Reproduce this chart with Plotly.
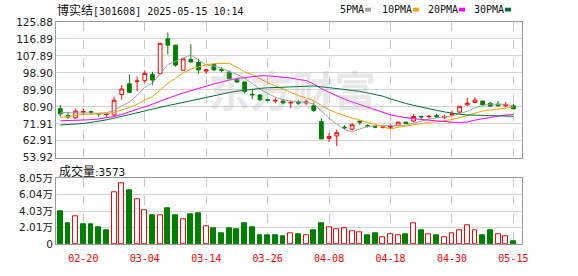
import plotly.graph_objects as go

# ---- trading sessions ----
dates = [
    "02-17", "02-18", "02-19", "02-20", "02-21", "02-24", "02-25", "02-26", "02-27", "02-28",
    "03-03", "03-04", "03-05", "03-06", "03-07", "03-10", "03-11", "03-12", "03-13", "03-14",
    "03-17", "03-18", "03-19", "03-20", "03-21", "03-24", "03-25", "03-26", "03-27", "03-28",
    "03-31", "04-01", "04-02", "04-03", "04-07", "04-08", "04-09", "04-10", "04-11", "04-14",
    "04-15", "04-16", "04-17", "04-18", "04-21", "04-22", "04-23", "04-24", "04-25", "04-28",
    "04-29", "04-30", "05-06", "05-07", "05-08", "05-09", "05-12", "05-13", "05-14", "05-15",
]

opens = [
    80.0, 76.3, 75.1, 78.1, 78.3, 77.4, 76.8, 76.6, 87.4, 93.1,
    94.3, 94.95, 98.1, 98.5, 116.97, 113.6, 100.3, 106.0, 104.4, 99.9,
    103.4, 100.8, 99.3, 95.3, 94.1, 87.6, 87.2, 84.7, 84.0, 84.0,
    83.0, 83.4, 83.0, 81.5, 73.1, 64.2, 65.5, 70.1, 69.1, 73.4,
    70.9, 70.4, 70.0, 70.1, 71.1, 72.8, 73.4, 75.9, 75.7, 76.2,
    75.4, 76.5, 78.1, 82.0, 83.2, 84.0, 82.85, 82.35, 81.5, 81.5,
]
highs = [
    81.9, 78.3, 80.0, 80.0, 78.8, 77.6, 77.6, 86.4, 92.4, 98.1,
    96.9, 100.2, 99.5, 114.8, 120.3, 113.8, 106.9, 114.1, 106.4, 101.0,
    103.9, 101.8, 100.3, 95.8, 94.3, 89.9, 87.7, 84.9, 85.5, 84.9,
    84.4, 84.4, 84.9, 83.2, 74.8, 67.0, 68.9, 71.2, 72.4, 73.4,
    71.6, 71.0, 71.3, 71.7, 73.1, 73.1, 77.1, 76.0, 76.5, 77.3,
    76.8, 79.0, 81.2, 85.7, 86.0, 84.0, 83.5, 84.0, 83.5, 82.35,
]
lows = [
    75.8, 74.6, 74.6, 76.6, 76.6, 75.8, 75.6, 76.0, 84.7, 88.1,
    89.2, 93.6, 92.4, 98.0, 108.7, 102.2, 100.3, 104.5, 98.5, 98.3,
    100.0, 99.2, 95.8, 93.6, 87.9, 84.9, 84.0, 84.0, 82.8, 82.3,
    80.2, 82.0, 82.0, 78.1, 63.9, 62.3, 60.1, 68.9, 68.3, 71.4,
    70.0, 69.6, 69.4, 69.0, 71.0, 71.9, 72.8, 74.0, 74.8, 75.1,
    74.3, 76.1, 77.3, 81.5, 82.85, 82.0, 81.0, 81.3, 80.7, 79.8,
]
closes = [
    77.2, 75.5, 78.65, 78.3, 78.1, 77.1, 77.0, 84.4, 90.4, 88.6,
    94.6, 98.66, 95.1, 114.6, 113.6, 103.0, 106.4, 104.7, 100.5, 100.6,
    100.5, 100.3, 95.8, 94.1, 89.1, 87.3, 84.7, 84.4, 84.3, 83.0,
    83.2, 82.9, 83.5, 79.0, 63.9, 65.2, 67.2, 69.8, 71.4, 72.8,
    70.7, 70.2, 70.3, 70.5, 72.8, 72.1, 75.8, 75.6, 75.9, 75.7,
    75.8, 77.3, 81.2, 82.85, 84.5, 82.0, 81.3, 81.4, 82.1, 79.8,
]
# volume in units of 万股
volumes = [
    4.05, 2.57, 3.35, 2.41, 2.41, 2.06, 1.71, 6.34, 7.39, 6.61,
    5.53, 4.12, 3.58, 3.58, 4.40, 3.58, 3.07, 3.70, 3.81, 2.14,
    1.95, 1.36, 1.95, 1.83, 2.53, 2.06, 1.13, 1.13, 1.13, 0.93,
    1.32, 1.25, 1.01, 1.71, 2.57, 2.02, 1.83, 1.95, 1.60, 1.48,
    1.13, 1.36, 0.78, 1.25, 1.13, 1.25, 2.53, 1.63, 1.25, 1.13,
    0.78, 1.36, 1.63, 2.30, 1.71, 1.01, 1.63, 1.25, 0.89, 0.3573,
]

# moving-average values for the first sessions (their windows reach earlier trading days)
ma5_head = [78.0, 77.6, 77.6, 77.7]
ma10_head = [75.3, 75.9, 76.5, 76.9, 77.1, 77.3, 77.3, 78.0, 79.3]
ma20_head = [73.5, 73.6, 73.7, 73.9, 74.1, 74.5, 75.0, 75.8, 76.9, 78.2,
             79.5, 80.9, 82.3, 84.0, 85.6, 86.9, 88.3, 89.6, 90.7]
ma30_head = [71.3, 71.5, 71.7, 72.1, 72.7, 73.3, 74.0, 74.9, 75.9, 76.8,
             77.8, 78.7, 79.6, 80.6, 81.6, 82.4, 83.3, 84.2, 85.0, 85.9,
             86.8, 87.7, 88.5, 89.2, 89.8, 90.3, 90.7, 91.0, 91.2]

price_ticks = [53.92, 62.91, 71.91, 80.90, 89.90, 98.90, 107.89, 116.89, 125.88]
vol_ticks = [0, 2.01, 4.03, 6.04, 8.05]
vol_tick_text = ["0", "2.01万", "4.03万", "6.04万", "8.05万"]
x_tick_dates = ["02-20", "03-04", "03-14", "03-26", "04-08", "04-18", "04-30", "05-15"]

ma_names = ["5PMA", "10PMA", "20PMA", "30PMA"]
ma_colors = ["#a0a0a0", "#f5a300", "#ff00ff", "#00703c"]

RED = "#ff0000"
GREEN = "#008000"
FRAME = "#9a9a9a"
GRID = "#d4d4d4"

# ---- canvas geometry (pixels) ----
W, H = 578, 276
L, R, T, B = 56, 56, 22, 21
PW, PH = W - L - R, H - T - B


def px_x(x):
    return (x - L) / PW


def px_y(y):
    return (H - B - y) / PH


def moving_average(values, n, head):
    out = list(head)
    for i in range(len(head), len(values)):
        out.append(sum(values[i - n + 1:i + 1]) / n)
    return out


mas = [
    moving_average(closes, 5, ma5_head),
    moving_average(closes, 10, ma10_head),
    moving_average(closes, 20, ma20_head),
    moving_average(closes, 30, ma30_head),
]

# volume bars: red outline when the close is not below the previous close
vol_up = []
for i, c in enumerate(closes):
    ref = closes[i - 1] if i > 0 else opens[0]
    vol_up.append(c >= ref)
vol_fill = ["white" if u else GREEN for u in vol_up]
vol_edge = [RED if u else GREEN for u in vol_up]

fig = go.Figure()

for name, color, vals in zip(ma_names, ma_colors, mas):
    fig.add_trace(go.Scatter(
        x=dates, y=vals, mode="lines", name=name,
        line=dict(color=color, width=1),
        xaxis="x", yaxis="y", showlegend=False, hoverinfo="skip",
    ))

fig.add_trace(go.Candlestick(
    x=dates, open=opens, high=highs, low=lows, close=closes,
    increasing=dict(line=dict(color=RED, width=1), fillcolor="white"),
    decreasing=dict(line=dict(color=GREEN, width=1), fillcolor=GREEN),
    whiskerwidth=0, xaxis="x", yaxis="y", showlegend=False, hoverinfo="skip",
))

fig.add_trace(go.Bar(
    x=dates, y=volumes, width=0.64,
    marker=dict(color=vol_fill, line=dict(color=vol_edge, width=1)),
    xaxis="x2", yaxis="y2", showlegend=False, hoverinfo="skip",
))

x_range = [-0.56, 60.12]
axis_common = dict(
    type="category", range=x_range, tickvals=x_tick_dates,
    showgrid=True, gridcolor="#c8c8c8", griddash="dash", gridwidth=1,
    showline=True, mirror=True, linecolor=FRAME, linewidth=1,
    ticks="", zeroline=False, fixedrange=True,
)

price_domain = [px_y(164.5), 1]
vol_domain = [0, px_y(186)]

fig.update_layout(
    width=W, height=H,
    margin=dict(l=L, r=R, t=T, b=B, pad=0),
    paper_bgcolor="white", plot_bgcolor="white",
    bargap=0, showlegend=False,
    xaxis=dict(axis_common, anchor="y", showticklabels=False,
               rangeslider=dict(visible=False)),
    xaxis2=dict(axis_common, anchor="y2", matches="x", showticklabels=True,
                ticklabelstandoff=5,
                tickfont=dict(family="DejaVu Sans Mono", size=10, color=RED)),
    yaxis=dict(
        domain=price_domain, range=[price_ticks[0], price_ticks[-1]],
        tickvals=price_ticks, ticktext=[f"{v:.2f}" for v in price_ticks],
        showgrid=True, gridcolor=GRID, gridwidth=1, zeroline=False,
        showline=True, mirror=True, linecolor=FRAME, linewidth=1, ticks="",
        tickfont=dict(family="DejaVu Sans", size=10.5, color="#222"),
    ),
    yaxis2=dict(
        domain=vol_domain, range=[vol_ticks[0], vol_ticks[-1]],
        tickvals=vol_ticks, ticktext=vol_tick_text,
        showgrid=True, gridcolor=GRID, gridwidth=1, zeroline=False,
        showline=True, mirror=True, linecolor=FRAME, linewidth=1, ticks="",
        tickfont=dict(family="DejaVu Sans, Noto Sans CJK SC", size=10.5, color="#222"),
    ),
)

annotations = []
# title line
annotations.append(dict(
    xref="paper", yref="paper", x=px_x(55), y=px_y(9), xanchor="left", yanchor="middle",
    showarrow=False,
    text='<span style="font-family:Noto Sans CJK SC;font-size:12px">博实结</span>'
         '[301608] 2025-05-15 10:14',
    font=dict(family="DejaVu Sans Mono", size=10, color="#111"),
))
# volume caption
last_vol = int(round(volumes[-1] * 10000))
annotations.append(dict(
    xref="paper", yref="paper", x=px_x(57), y=px_y(178), xanchor="left", yanchor="middle",
    showarrow=False,
    text=f'<span style="font-family:Noto Sans CJK SC;font-size:12px">成交量</span>:{last_vol}',
    font=dict(family="DejaVu Sans", size=10.5, color="#111"),
))
# watermark
annotations.append(dict(
    xref="paper", yref="paper", x=px_x(292), y=px_y(92), xanchor="center", yanchor="middle",
    showarrow=False, text="<b>东方财富</b>",
    font=dict(family="Noto Sans CJK SC", size=42, color="rgba(150,150,150,0.22)"),
))

shapes = []
legend_x = [338, 380, 426, 472]
for name, color, x0 in zip(ma_names, ma_colors, legend_x):
    annotations.append(dict(
        xref="paper", yref="paper", x=px_x(x0), y=px_y(9), xanchor="left", yanchor="middle",
        showarrow=False, text=name,
        font=dict(family="DejaVu Sans Mono", size=10, color="#111"),
    ))
    sx = x0 + 6 * len(name) + 3
    shapes.append(dict(
        type="rect", xref="paper", yref="paper",
        x0=px_x(sx), x1=px_x(sx + 6), y0=px_y(11), y1=px_y(7),
        fillcolor=color, line=dict(width=0),
    ))

fig.update_layout(annotations=annotations, shapes=shapes)

fig.write_html("out.html")
